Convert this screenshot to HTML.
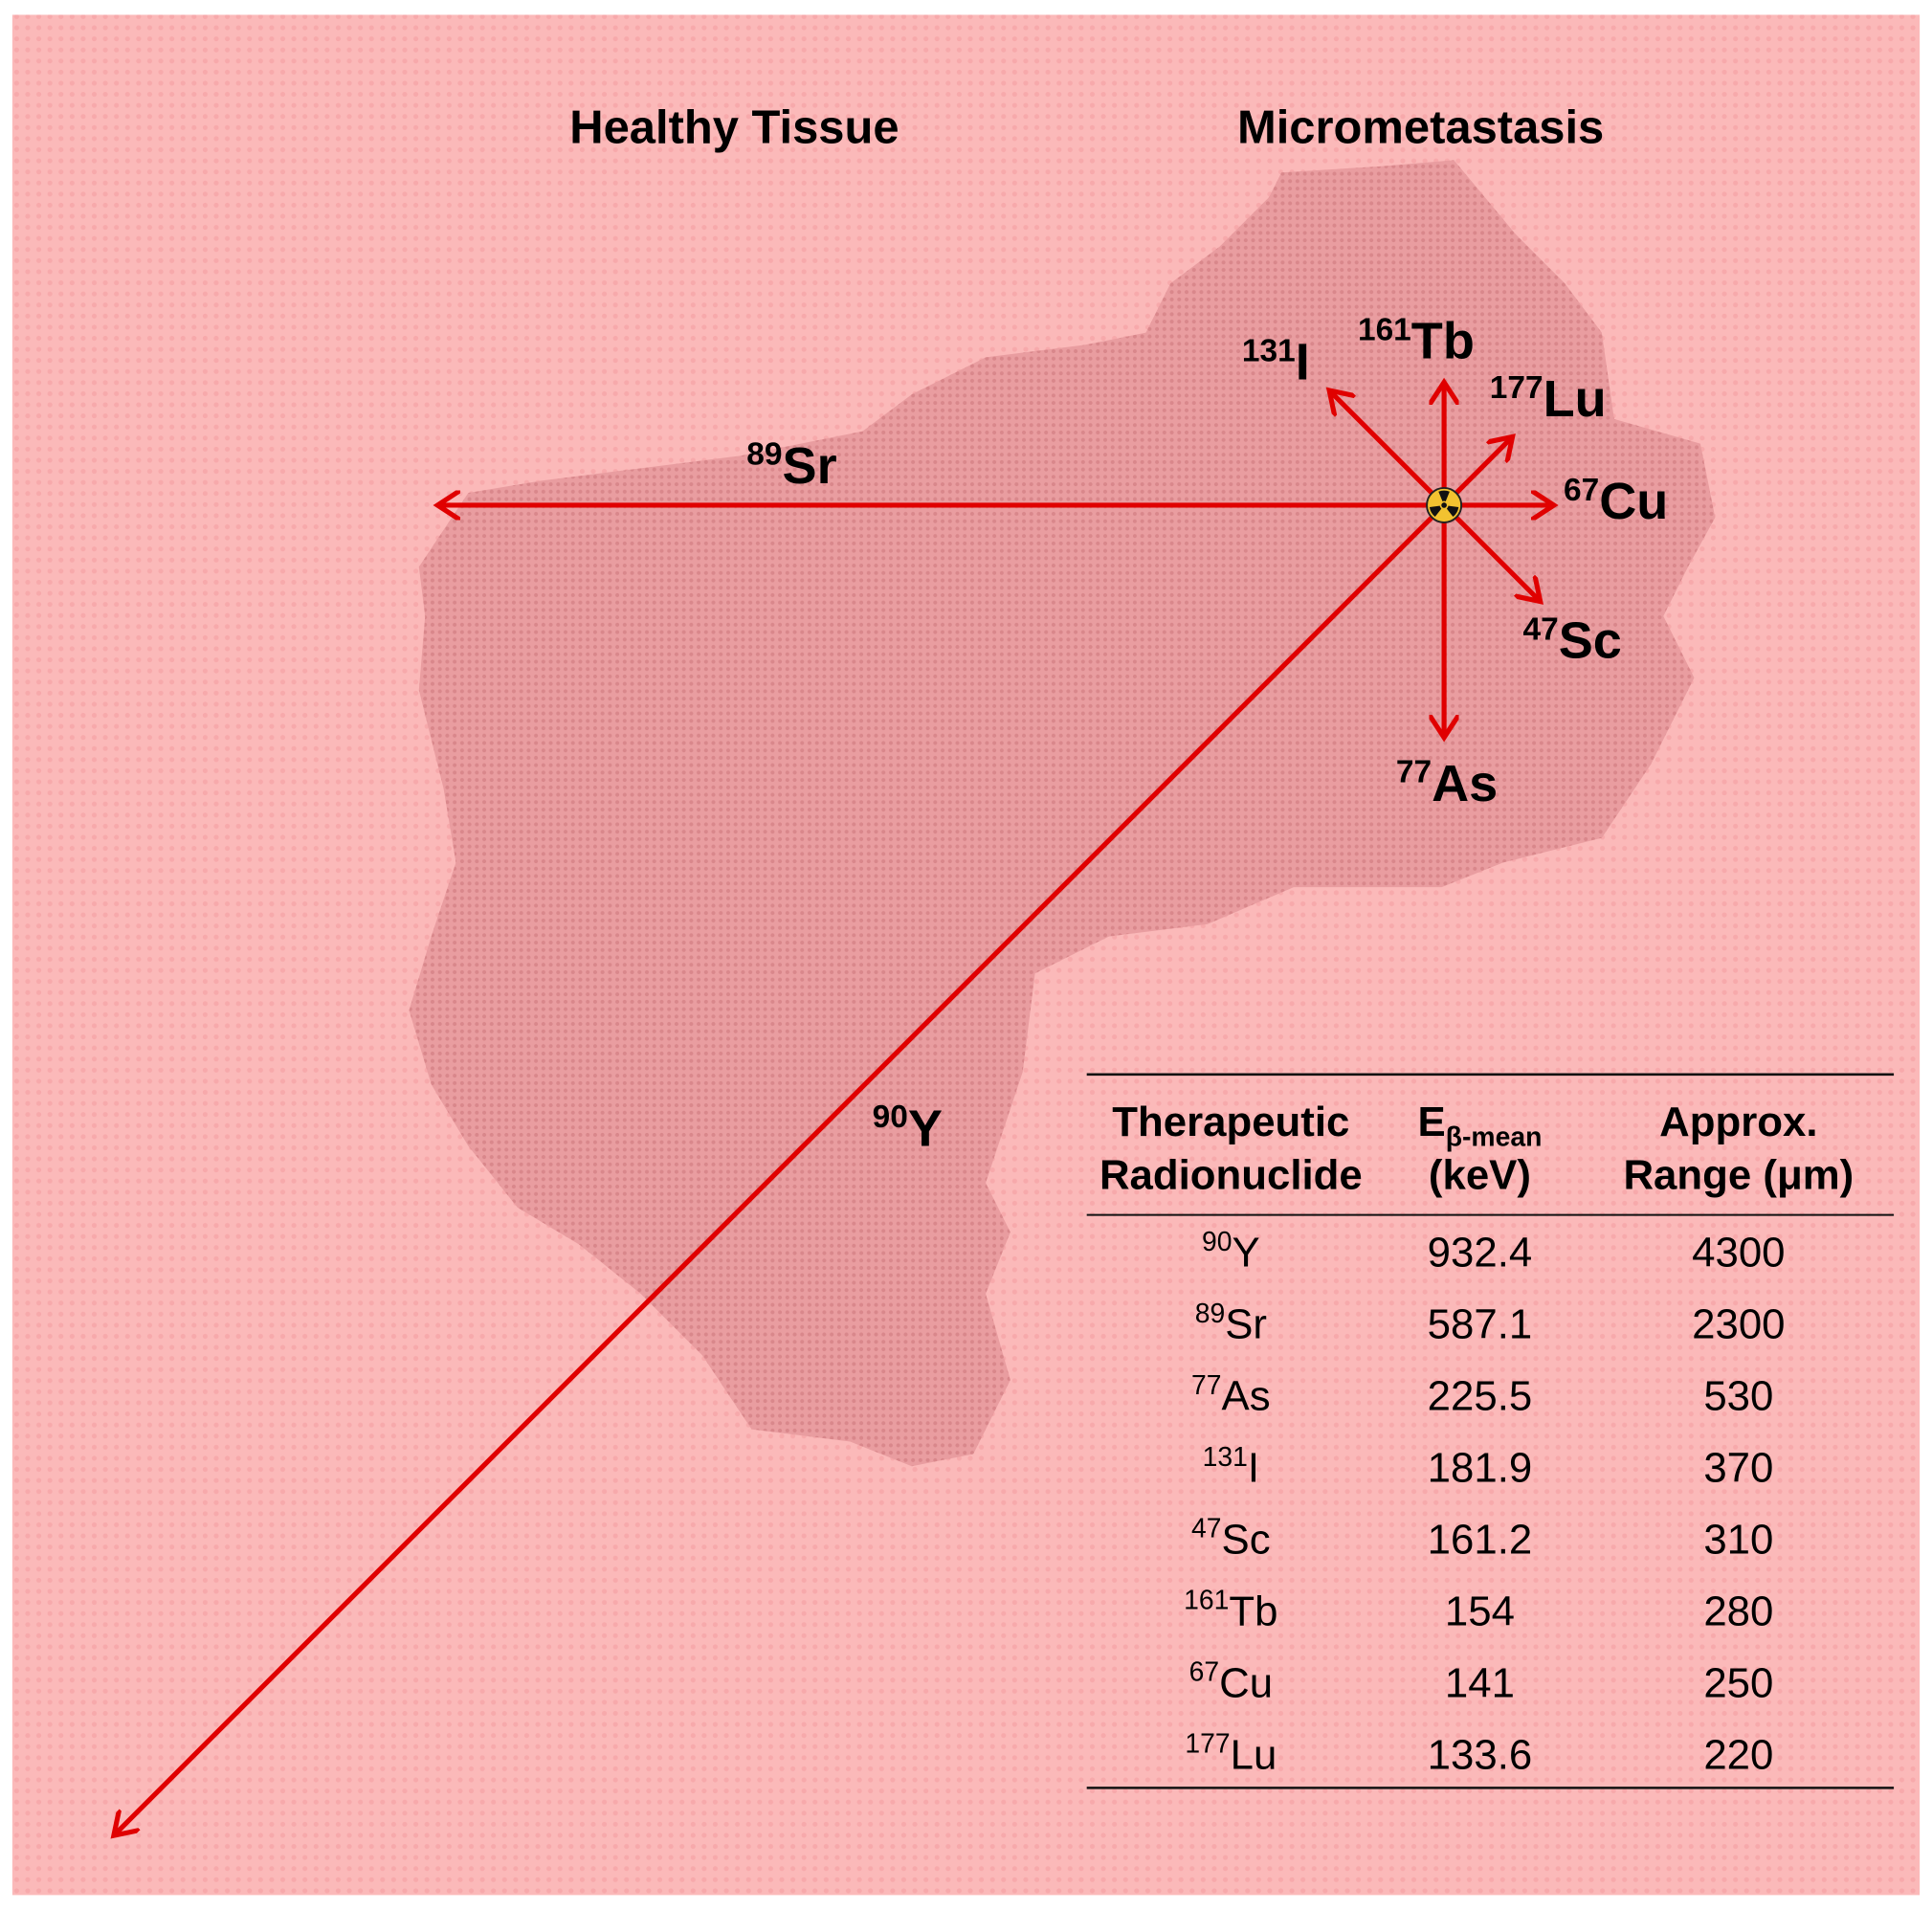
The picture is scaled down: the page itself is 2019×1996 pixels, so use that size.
<!DOCTYPE html>
<html><head><meta charset="utf-8"><style>
html,body{margin:0;padding:0;background:#fff}
svg{display:block;font-family:"Liberation Sans",Arial,sans-serif}
</style></head><body>
<svg id="fig" width="2019" height="1996" viewBox="0 0 1568 1550.1" xmlns="http://www.w3.org/2000/svg">
<defs>
<pattern id="bgp" width="9" height="9" patternUnits="userSpaceOnUse">
<rect width="9" height="9" fill="#fbb9b9"/><circle cx="4.5" cy="4.5" r="2" fill="#f7a9ab"/>
</pattern>
<pattern id="tp" width="6" height="6" patternUnits="userSpaceOnUse">
<rect width="6" height="6" fill="#e99da0"/><circle cx="3" cy="3" r="1.6" fill="#d9878b"/>
</pattern>
<marker id="ah" markerWidth="6" markerHeight="6" refX="4.5" refY="3" orient="auto" markerUnits="strokeWidth">
<path d="M0,0 L4.6,3 L0,6" fill="none" stroke="#e00000" stroke-width="1"/>
</marker>
</defs>
<rect width="1568" height="1550" fill="#fff"/>
<rect x="10" y="12" width="1548" height="1526" fill="url(#bgp)"/>
<polygon fill="url(#tp)" points="1040,140 1120,135 1180,130 1230,190 1270,230 1300,270 1310,340 1380,360 1392,420 1370,460 1350,500 1375,550 1340,620 1300,680 1220,700 1170,720 1050,720 980,750 900,760 840,790 830,870 800,960 820,1000 800,1050 820,1120 790,1180 740,1190 690,1170 610,1160 570,1100 520,1050 470,1010 420,980 380,930 350,880 332,820 350,760 370,700 360,640 340,560 345,500 340,460 380,400 440,390 520,380 600,370 700,350 740,320 800,290 880,280 930,270 950,230 990,200 1030,160"/>
<text x="596" y="116" text-anchor="middle" font-weight="bold" font-size="38">Healthy Tissue</text>
<text x="1153" y="116" text-anchor="middle" font-weight="bold" font-size="38">Micrometastasis</text>
<g id="arrows"></g>
<g font-weight="bold" font-size="42">
<text x="1008" y="308"><tspan font-size="26" dy="-15">131</tspan><tspan dy="15">I</tspan></text>
<text x="1102" y="291"><tspan font-size="26" dy="-15">161</tspan><tspan dy="15">Tb</tspan></text>
<text x="1209" y="338"><tspan font-size="26" dy="-15">177</tspan><tspan dy="15">Lu</tspan></text>
<text x="1269" y="421"><tspan font-size="26" dy="-15">67</tspan><tspan dy="15">Cu</tspan></text>
<text x="1236" y="534"><tspan font-size="26" dy="-15">47</tspan><tspan dy="15">Sc</tspan></text>
<text x="1133" y="650"><tspan font-size="26" dy="-15">77</tspan><tspan dy="15">As</tspan></text>
<text x="606" y="392"><tspan font-size="26" dy="-15">89</tspan><tspan dy="15">Sr</tspan></text>
<text x="708" y="930"><tspan font-size="26" dy="-15">90</tspan><tspan dy="15">Y</tspan></text>
</g>
<g transform="translate(1172,410)">
<circle r="14" fill="#f2c230" stroke="#222" stroke-width="1.5"/>
<path d="M0,0 L-4.5,-11 A12,12 0 0 1 4.5,-11 Z" fill="#111"/>
<path d="M0,0 L-4.5,-11 A12,12 0 0 1 4.5,-11 Z" fill="#111" transform="rotate(120)"/>
<path d="M0,0 L-4.5,-11 A12,12 0 0 1 4.5,-11 Z" fill="#111" transform="rotate(240)"/>
<circle r="3.5" fill="#f2c230"/><circle r="2.2" fill="#111"/>
</g>
<g id="table">
<line x1="882" y1="872" x2="1537" y2="872" stroke="#111" stroke-width="2"/>
<line x1="882" y1="986" x2="1537" y2="986" stroke="#111" stroke-width="1.5"/>
<line x1="882" y1="1451" x2="1537" y2="1451" stroke="#111" stroke-width="2"/>
<g font-weight="bold" font-size="34" text-anchor="middle">
<text x="999" y="922">Therapeutic</text>
<text x="999" y="965">Radionuclide</text>
<text x="1201" y="922">E<tspan font-size="22" dy="8">β-mean</tspan></text>
<text x="1201" y="965">(keV)</text>
<text x="1411" y="922">Approx.</text>
<text x="1411" y="965">Range (μm)</text>
</g>
<g id="rows" font-size="34" text-anchor="middle"></g>
</g>
<script>
const nuclideMass = ["90","89","77","131","47","161","67","177"];
const nuclideSym = ["Y","Sr","As","I","Sc","Tb","Cu","Lu"];
const energies = ["932.4","587.1","225.5","181.9","161.2","154","141","133.6"];
const ranges = [4300,2300,530,370,310,280,250,220];
const angles = [135,180,90,-135,45,-90,0,-45];
const NS="http://www.w3.org/2000/svg";
const cx=1172, cy=410;
function lenScale(r){return r*0.355;}
const ag=document.getElementById('arrows');
ranges.forEach((r,i)=>{
  const a=angles[i]*Math.PI/180, L=lenScale(r);
  const l=document.createElementNS(NS,'line');
  l.setAttribute('x1',cx);l.setAttribute('y1',cy);
  l.setAttribute('x2',cx+Math.cos(a)*L);l.setAttribute('y2',cy+Math.sin(a)*L);
  l.setAttribute('stroke','#e00000');l.setAttribute('stroke-width','4');
  l.setAttribute('marker-end','url(#ah)');
  
  
  ag.appendChild(l);
});
const rg=document.getElementById('rows');
nuclideSym.forEach((s,i)=>{
  const y=1028+i*58.2;
  const t1=document.createElementNS(NS,'text');
  t1.setAttribute('x',999);t1.setAttribute('y',y);
  const sup=document.createElementNS(NS,'tspan');
  sup.setAttribute('font-size','22');sup.setAttribute('dy','-13');
  sup.textContent=nuclideMass[i];
  const sym=document.createElementNS(NS,'tspan');
  sym.setAttribute('dy','13');sym.textContent=s;
  t1.appendChild(sup);t1.appendChild(sym);
  
  
  rg.appendChild(t1);
  const t2=document.createElementNS(NS,'text');
  t2.setAttribute('x',1201);t2.setAttribute('y',y);t2.textContent=energies[i];
  
  
  rg.appendChild(t2);
  const t3=document.createElementNS(NS,'text');
  t3.setAttribute('x',1411);t3.setAttribute('y',y);t3.textContent=ranges[i];
  
  
  rg.appendChild(t3);
});
</script>
</svg>
</body></html>
